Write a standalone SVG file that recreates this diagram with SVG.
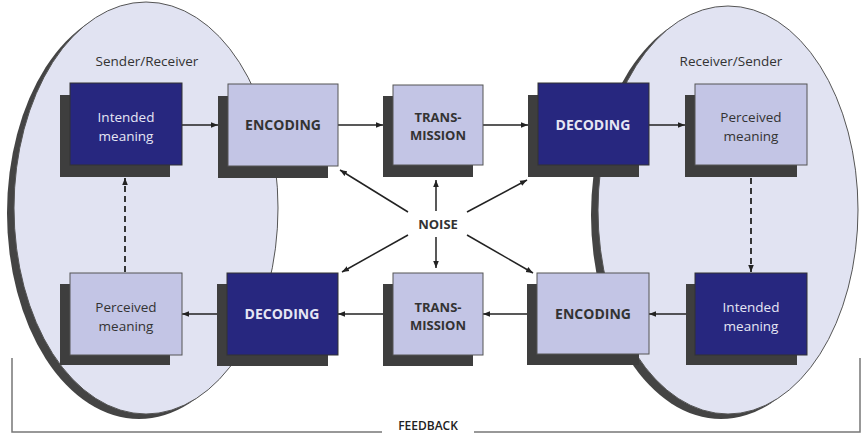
<svg xmlns="http://www.w3.org/2000/svg" width="861" height="435" viewBox="0 0 861 435">
<style>
.ell{fill:#e1e3f2;stroke:#555;stroke-width:1}
.eshadow{fill:#444}
.shadow{fill:#3e3e3e}
.dark{fill:#27277f;stroke:#333;stroke-width:1}
.light{fill:#c3c5e5;stroke:#555;stroke-width:1}
.tw{font-family:"Open Sans","Liberation Sans",sans-serif;font-size:13.5px;fill:#e6e6f4;text-anchor:middle}
.tl{font-family:"Open Sans","Liberation Sans",sans-serif;font-size:13.5px;fill:#333;text-anchor:middle}
.bw{font-family:"Open Sans","Liberation Sans",sans-serif;font-size:14px;font-weight:bold;fill:#e6e6f4;text-anchor:middle}
.bl{font-family:"Open Sans","Liberation Sans",sans-serif;font-size:14px;font-weight:bold;fill:#333;text-anchor:middle}
.cap{font-family:"Open Sans","Liberation Sans",sans-serif;font-size:13.5px;fill:#333;text-anchor:middle}
.line{stroke:#222;stroke-width:1.5;fill:none}
.dash{stroke:#222;stroke-width:1.8;fill:none;stroke-dasharray:6,4}
.fb{stroke:#777;stroke-width:1.5;fill:none}
</style>
<defs>
<marker id="ah" viewBox="0 0 10 10" refX="10" refY="5" markerWidth="7" markerHeight="7" orient="auto" markerUnits="userSpaceOnUse">
<path d="M0,1 L10,5 L0,9 Z" fill="#222"/>
</marker>
</defs>

<g id="sender-area">
<ellipse class="eshadow" cx="139" cy="213" rx="132" ry="206"/>
<ellipse class="ell" cx="146" cy="208" rx="132" ry="206"/>
<text class="cap" x="147" y="66">Sender/Receiver</text>
</g>
<g id="receiver-area">
<ellipse class="eshadow" cx="721" cy="215" rx="130" ry="204"/>
<ellipse class="ell" cx="728" cy="210" rx="130" ry="204"/>
<text class="cap" x="731" y="66">Receiver/Sender</text>
</g>

<g id="feedback">
<path class="fb" d="M12,358 V432 H382"/>
<path class="fb" d="M474,432 H860 V358"/>
<text class="cap" x="428" y="430" style="font-size:12px;font-weight:600;fill:#222">FEEDBACK</text>
</g>

<g id="connectors">
<line class="line" x1="182" y1="125" x2="218" y2="125" marker-end="url(#ah)"/>
<line class="line" x1="338" y1="125" x2="383" y2="125" marker-end="url(#ah)"/>
<line class="line" x1="483" y1="125" x2="528" y2="125" marker-end="url(#ah)"/>
<line class="line" x1="649" y1="125" x2="685" y2="125" marker-end="url(#ah)"/>
<line class="line" x1="686" y1="314" x2="649" y2="314" marker-end="url(#ah)"/>
<line class="line" x1="527" y1="314" x2="483" y2="314" marker-end="url(#ah)"/>
<line class="line" x1="383" y1="314" x2="338" y2="314" marker-end="url(#ah)"/>
<line class="line" x1="217" y1="314" x2="182" y2="314" marker-end="url(#ah)"/>
<line class="dash" x1="125" y1="272" x2="125" y2="178" marker-end="url(#ah)"/>
<line class="dash" x1="751" y1="178" x2="751" y2="272" marker-end="url(#ah)"/>
<line class="line" x1="436" y1="211" x2="436" y2="180" marker-end="url(#ah)"/>
<line class="line" x1="436" y1="237" x2="436" y2="268" marker-end="url(#ah)"/>
<line class="line" x1="408" y1="212" x2="340" y2="170" marker-end="url(#ah)"/>
<line class="line" x1="467" y1="212" x2="527" y2="180" marker-end="url(#ah)"/>
<line class="line" x1="408" y1="235" x2="342" y2="272" marker-end="url(#ah)"/>
<line class="line" x1="467" y1="235" x2="533" y2="273" marker-end="url(#ah)"/>
</g>

<g id="noise">
<text class="cap" x="438" y="229" style="font-weight:bold;font-size:13px">NOISE</text>
</g>

<g id="intended-meaning-1">
<rect class="shadow" x="60" y="95" width="110" height="82"/>
<rect class="dark" x="70" y="83" width="112" height="82"/>
<text class="tw" x="126" y="122">Intended</text>
<text class="tw" x="126" y="141">meaning</text>
</g>
<g id="encoding-1">
<rect class="shadow" x="218" y="96" width="110" height="82"/>
<rect class="light" x="228" y="84" width="110" height="82"/>
<text class="bl" x="283" y="130">ENCODING</text>
</g>
<g id="transmission-1">
<rect class="shadow" x="383" y="96" width="90" height="81"/>
<rect class="light" x="393" y="85" width="90" height="80"/>
<text class="bl" x="438" y="122" style="font-size:13px">TRANS-</text>
<text class="bl" x="438" y="140" style="font-size:13px">MISSION</text>
</g>
<g id="decoding-1">
<rect class="shadow" x="528" y="95" width="111" height="82"/>
<rect class="dark" x="538" y="83" width="111" height="82"/>
<text class="bw" x="593" y="130">DECODING</text>
</g>
<g id="perceived-meaning-1">
<rect class="shadow" x="685" y="95" width="112" height="82"/>
<rect class="light" x="695" y="84" width="112" height="81"/>
<text class="tl" x="751" y="122">Perceived</text>
<text class="tl" x="751" y="141">meaning</text>
</g>

<g id="perceived-meaning-2">
<rect class="shadow" x="60" y="284" width="110" height="81"/>
<rect class="light" x="70" y="273" width="112" height="82"/>
<text class="tl" x="126" y="312">Perceived</text>
<text class="tl" x="126" y="331">meaning</text>
</g>
<g id="decoding-2">
<rect class="shadow" x="217" y="284" width="111" height="82"/>
<rect class="dark" x="227" y="273" width="111" height="82"/>
<text class="bw" x="282" y="319">DECODING</text>
</g>
<g id="transmission-2">
<rect class="shadow" x="383" y="284" width="90" height="82"/>
<rect class="light" x="393" y="273" width="90" height="82"/>
<text class="bl" x="438" y="312" style="font-size:13px">TRANS-</text>
<text class="bl" x="438" y="330" style="font-size:13px">MISSION</text>
</g>
<g id="encoding-2">
<rect class="shadow" x="527" y="284" width="112" height="81"/>
<rect class="light" x="537" y="273" width="112" height="81"/>
<text class="bl" x="593" y="319">ENCODING</text>
</g>
<g id="intended-meaning-2">
<rect class="shadow" x="686" y="284" width="111" height="81"/>
<rect class="dark" x="695" y="273" width="112" height="82"/>
<text class="tw" x="751" y="312">Intended</text>
<text class="tw" x="751" y="331">meaning</text>
</g>
</svg>
